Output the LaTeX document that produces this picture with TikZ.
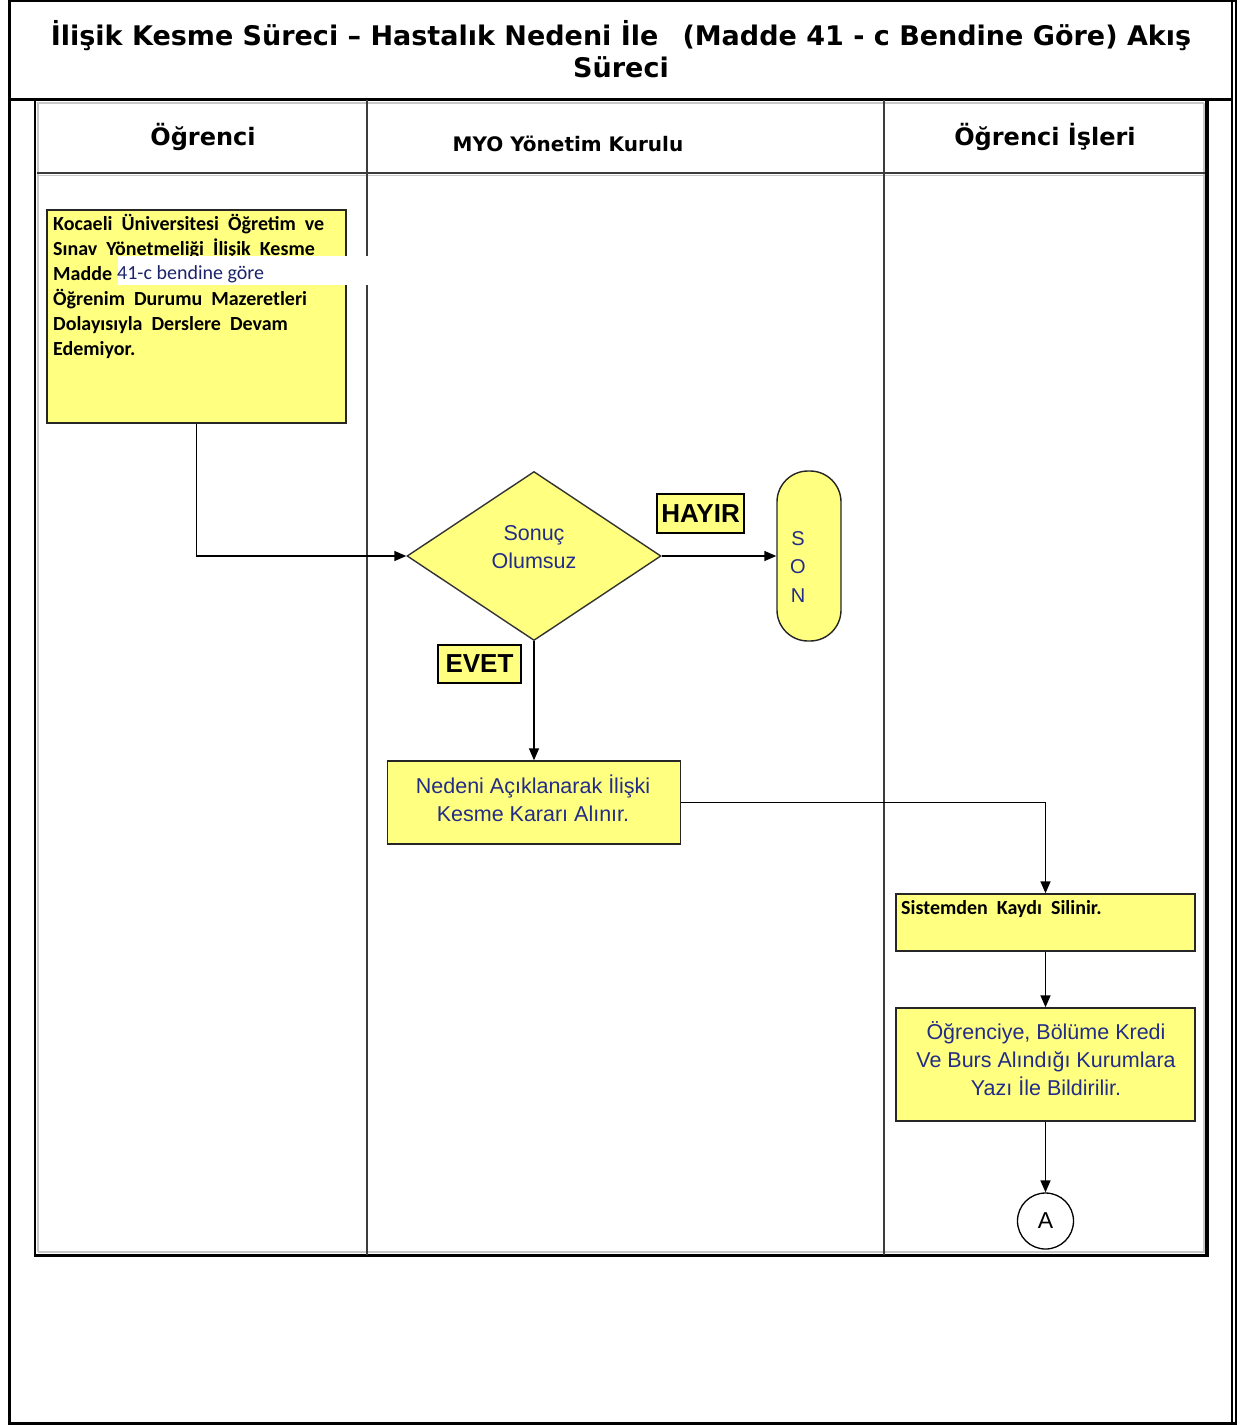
\documentclass[tikz,border=0pt]{standalone}
\usepackage{fontspec}
\setmainfont{Liberation Sans}
\newfontfamily\dvfont{DejaVu Sans}
\newfontfamily\calfont{Carlito}
\usetikzlibrary{arrows.meta,shapes.geometric}
\definecolor{boxyel}{RGB}{255,255,128}
\definecolor{txtblue}{RGB}{35,45,135}
\definecolor{lanegray}{RGB}{60,60,60}
\definecolor{bevel}{RGB}{200,200,200}
\begin{document}
\begin{tikzpicture}[x=1pt,y=-1pt,
  flowbox/.style={draw=black!85, line width=1.4pt, fill=boxyel, inner sep=0pt},
  labbox/.style={draw=black, line width=1.4pt, fill=boxyel, inner sep=0pt,
     font=\bfseries\fontsize{26}{28}\selectfont},
  bluetxt/.style={text=txtblue, font=\fontsize{21.5}{28}\selectfont, align=center, inner sep=0pt},
  caltxt/.style={font=\calfont\bfseries\fontsize{20}{25}\selectfont, align=left, inner sep=0pt, anchor=north west},
  conn/.style={line width=1.5pt, -{Triangle[length=12pt,width=10pt]}},
  lane/.style={draw=lanegray, line width=1.5pt},
  hdr/.style={font=\dvfont\bfseries\fontsize{24}{28}\selectfont, inner sep=0pt}
]
\useasboundingbox (0,0) rectangle (1241,1425);
% outer frame
\draw[line width=3.5pt] (9.5,0) -- (9.5,1425);
\draw[line width=2pt] (9,1) -- (1237,1);
\draw[line width=3pt] (9,1423) -- (1237,1423);
\draw[line width=1.6pt] (1232,0) -- (1232,1425);
\draw[line width=1.6pt] (1236,0) -- (1236,1425);
\draw[line width=3pt] (9,99) -- (1232,99);
% title
\node[font=\dvfont\bfseries\fontsize{27}{30}\selectfont, inner sep=0pt] (title1) at (621,36)
  {İlişik Kesme Süreci – Hastalık Nedeni İle\hspace{24pt}(Madde 41 - c Bendine Göre) Akış};
\node[font=\dvfont\bfseries\fontsize{27}{30}\selectfont, inner sep=0pt] (title2) at (621,67) {Süreci};
% inner table
\draw[bevel, line width=1.5pt] (38,1252) -- (38,103) -- (1204,103);
\draw[bevel, line width=1.5pt] (38,1252) -- (1204,1252) -- (1204,103);
\draw[line width=2pt] (35,100) -- (35,1256);
\draw[line width=3.5pt] (1207,100) -- (1207,1256);
\draw[line width=3.5pt] (34,1255.5) -- (1209,1255.5);
\draw[bevel, line width=1.5pt] (38,175.5) -- (1205,175.5);
\draw[lanegray, line width=2.5pt] (37,173) -- (1205,173);
\draw[lane] (367,100) -- (367,1255);
\draw[lane] (884,100) -- (884,1255);
% headers
\node[hdr] (h1) at (203,137) {Öğrenci};
\node[hdr, font=\dvfont\bfseries\fontsize{20}{22}\selectfont] (h2) at (568,144) {MYO Yönetim Kurulu};
\node[hdr] (h3) at (1045,137) {Öğrenci İşleri};
% box 1
\node[flowbox, minimum width=299pt, minimum height=213pt] (b1) at (196.5,316.5) {};
\node[caltxt] (b1t) at (53,214) {Kocaeli\ \ Üniversitesi\ \ Öğretim\ \ ve\\Sınav\ \ Yönetmeliği\ \ İlişik\ \ Kesme\\Madde\\Öğrenim\ \ Durumu\ \ Mazeretleri\\Dolayısıyla\ \ Derslere\ \ Devam\\Edemiyor.};
\fill[white] (118,256) rectangle (369,285);
\node[font=\calfont\fontsize{20}{22}\selectfont, text=txtblue!80!black, anchor=west, inner sep=0pt] (b1o) at (117,274) {41-c bendine göre};
% diamond
\node[diamond, draw=black!80, line width=1.4pt, fill=boxyel, minimum width=254pt, minimum height=169pt, inner sep=0pt, aspect=1.5] (d) at (534,556) {};
\node[bluetxt] (dt) at (534,547) {Sonuç\\Olumsuz};
% SON
\node[flowbox, rounded corners=31pt, minimum width=64pt, minimum height=170pt] (son) at (809,556) {};
\node[bluetxt, font=\fontsize{20}{28.5}\selectfont] (sont) at (798,567) {S\\O\\N};
% labels
\node[labbox, minimum width=87pt, minimum height=39pt] (hayir) at (700.5,513.5) {HAYIR};
\node[labbox, minimum width=83pt, minimum height=38pt] (evet) at (479.5,664) {EVET};
% Nedeni box
\node[flowbox, minimum width=293pt, minimum height=83pt] (ned) at (534,802.5) {};
\node[bluetxt] (nedt) at (533,798) {Nedeni Açıklanarak İlişki\\Kesme Kararı Alınır.};
% right boxes
\node[flowbox, minimum width=299pt, minimum height=57pt] (sis) at (1045.5,922.5) {};
\node[caltxt] (sist) at (901,900) {Sistemden\ \ Kaydı\ \ Silinir.};
\node[flowbox, minimum width=299pt, minimum height=113pt] (ogr) at (1045.5,1064.5) {};
\node[bluetxt] (ogrt) at (1046,1059) {Öğrenciye, Bölüme Kredi\\Ve Burs Alındığı Kurumlara\\Yazı İle Bildirilir.};
\node[circle, draw=black, line width=1.3pt, fill=white, minimum size=56pt, inner sep=0pt, font=\fontsize{23}{24}\selectfont] (A) at (1045.5,1221) {A};
% connectors
\draw[conn] (b1.south) |- (d.west);
\draw[conn] (d.east) -- (son.west);
\draw[conn] (d.south) -- (ned.north);
\draw[conn] (ned.east) -| (sis.north);
\draw[conn] (sis.south) -- (ogr.north);
\draw[conn] (ogr.south) -- (A.north);
\end{tikzpicture}
\end{document}
